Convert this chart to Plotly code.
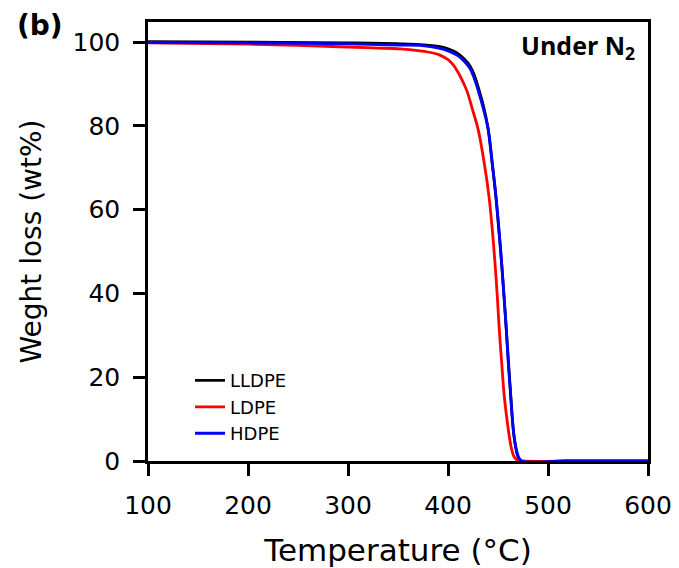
import plotly.graph_objects as go

# ---- data (Temperature in °C, weight in wt%) ----
t_lldpe = [100, 200, 300, 352, 372, 392, 400, 409, 416, 422, 426, 430, 436, 440, 444, 447.7, 450.7, 453.5, 456, 458.3, 460.5, 462.8, 465.3, 467.5, 470, 473, 520, 600]
w_lldpe = [100.1, 100.0, 99.8, 99.6, 99.4, 98.9, 98.4, 97.4, 96.0, 94.3, 92.3, 89.4, 84.2, 79.5, 71.5, 63.5, 55.5, 47.5, 39.5, 31.5, 23.5, 15.5, 7.5, 3.5, 1.0, 0.0, 0.0, 0.0]

t_ldpe = [100, 200, 265, 325, 352, 372, 385, 392, 400, 405, 409, 414, 419, 424, 430.3, 436.3, 441, 444.3, 447, 449.3, 451.3, 453.7, 456.3, 460.3, 463, 465.5, 468.7, 475, 520]
w_ldpe = [99.8, 99.5, 99.1, 98.6, 98.4, 97.9, 97.4, 96.9, 95.8, 94.6, 93.2, 91.0, 88.3, 84.3, 79.0, 71.0, 63.1, 55.2, 47.2, 39.3, 31.3, 23.4, 15.4, 7.5, 3.5, 1.3, 0.3, 0.0, 0.0]

t_hdpe = [100, 200, 300, 352, 372, 392, 400, 409, 416, 422, 426, 430, 436, 440.3, 444.3, 448, 451, 453.7, 456, 458.3, 460.3, 462.7, 465.3, 467.7, 470.5, 473.7, 520, 600]
w_hdpe = [99.9, 99.8, 99.6, 99.3, 99.2, 98.5, 97.9, 96.9, 95.5, 93.7, 91.5, 88.6, 83.5, 79.0, 71.0, 63.1, 55.2, 47.2, 39.3, 31.3, 23.4, 15.4, 7.5, 3.5, 1.0, 0.0, 0.0, 0.0]

x_ticks = [100, 200, 300, 400, 500, 600]
y_ticks = [0, 20, 40, 60, 80, 100]

series = [
    ("LLDPE", t_lldpe, w_lldpe, "#000000"),
    ("LDPE", t_ldpe, w_ldpe, "#ff0000"),
    ("HDPE", t_hdpe, w_hdpe, "#0000ff"),
]

fig = go.Figure()
for name, t, w, c in series:
    fig.add_trace(go.Scatter(
        x=t, y=w, mode="lines", name=name,
        line=dict(color=c, width=2.8, shape="spline", smoothing=1.0),
    ))

FONT = "DejaVu Sans"
axis_common = dict(
    showline=True, linecolor="black", linewidth=2.5, mirror=True,
    ticks="outside", ticklen=12, tickwidth=2.5, tickcolor="black",
    showgrid=False, zeroline=False, automargin=False,
    tickfont=dict(family=FONT, size=25, color="black"),
)

# The page body adds an 8 px offset, so the figure is sized/margined to compensate.
fig.update_layout(
    width=671, height=560,
    margin=dict(l=140, r=31, t=14, b=107, autoexpand=False),
    paper_bgcolor="white", plot_bgcolor="white",
    showlegend=True,
    legend=dict(
        x=0.084, y=0.225, xanchor="left", yanchor="top",
        bgcolor="rgba(0,0,0,0)", borderwidth=0,
        font=dict(family=FONT, size=18, color="black"),
        itemwidth=30, tracegroupgap=0,
    ),
    xaxis=dict(
        range=[100, 600], tickvals=x_ticks,
        title=dict(text="Temperature (°C)", font=dict(family=FONT, size=31, color="black"), standoff=22),
        ticklabelstandoff=8,
        **axis_common,
    ),
    yaxis=dict(
        range=[0, 104.8], tickvals=y_ticks,
        title=dict(text="Weght loss (wt%)", font=dict(family=FONT, size=28, color="black"), standoff=23),
        ticklabelstandoff=8,
        **axis_common,
    ),
    annotations=[
        dict(text="<b>(b)</b>", xref="paper", yref="paper",
             x=(40 - 148) / 500, y=(461 - 26) / 439, xanchor="center", yanchor="middle",
             showarrow=False, font=dict(family=FONT, size=28, color="black")),
        dict(text="<b>Under N<sub>2</sub></b>", xref="paper", yref="paper",
             x=0.978, y=0.945, xanchor="right", yanchor="middle",
             showarrow=False, font=dict(family="Open Sans", size=25, color="black")),
    ],
)

fig.write_html("out.html")
